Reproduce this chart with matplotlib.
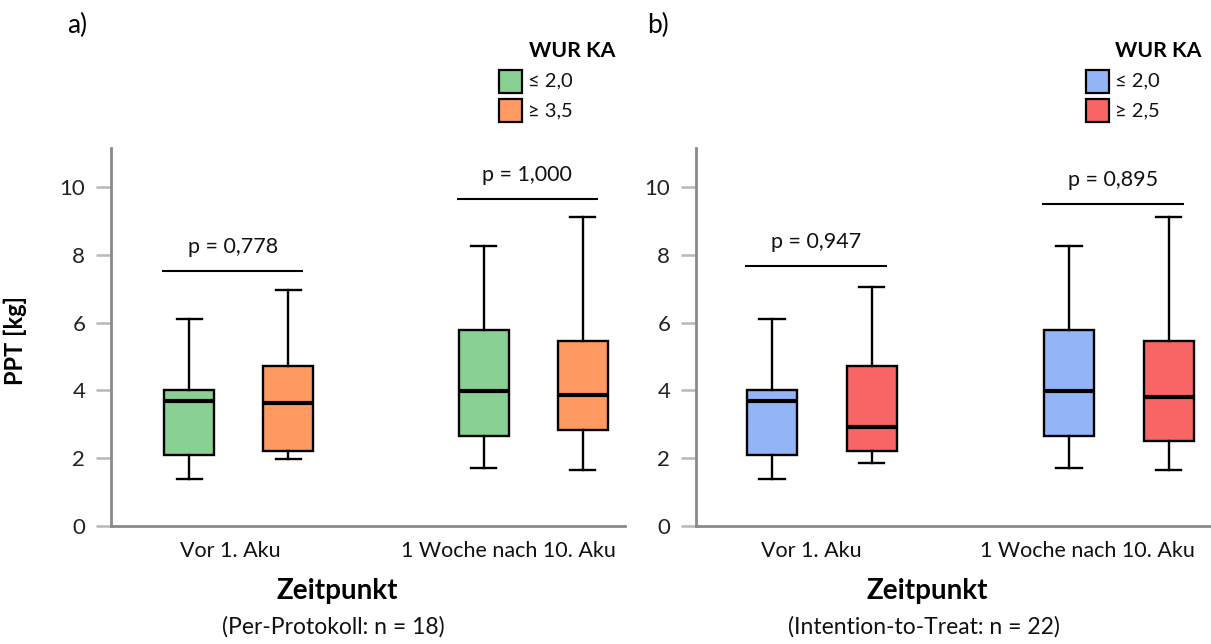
import matplotlib
matplotlib.use("Agg")
import matplotlib.pyplot as plt
from matplotlib.patches import Rectangle
from matplotlib.transforms import ScaledTranslation

plt.rcParams['font.family'] = ['Lato', 'DejaVu Sans']

W, H = 1211, 644

categories = ["Vor 1. Aku", "1 Woche nach 10. Aku"]
yticks = [0, 2, 4, 6, 8, 10]

# Per-Protokoll (n = 18): five-number summaries per timepoint
pp_low_whislo = [1.38, 1.72]
pp_low_q1 = [2.10, 2.65]
pp_low_med = [3.68, 3.98]
pp_low_q3 = [4.00, 5.78]
pp_low_whishi = [6.10, 8.25]

pp_high_whislo = [1.98, 1.65]
pp_high_q1 = [2.20, 2.82]
pp_high_med = [3.62, 3.87]
pp_high_q3 = [4.72, 5.45]
pp_high_whishi = [6.95, 9.12]

pp_pvalues = ["0,778", "1,000"]
pp_bracket_y = [7.52, 9.65]

# Intention-to-Treat (n = 22)
itt_low_whislo = [1.38, 1.72]
itt_low_q1 = [2.10, 2.65]
itt_low_med = [3.68, 3.98]
itt_low_q3 = [4.00, 5.78]
itt_low_whishi = [6.10, 8.25]

itt_high_whislo = [1.85, 1.65]
itt_high_q1 = [2.20, 2.52]
itt_high_med = [2.92, 3.80]
itt_high_q3 = [4.72, 5.45]
itt_high_whishi = [7.05, 9.12]

itt_pvalues = ["0,947", "0,895"]
itt_bracket_y = [7.67, 9.50]

pp_labels = ["\u2264 2,0", "\u2265 3,5"]
itt_labels = ["\u2264 2,0", "\u2265 2,5"]
pp_colors = ["#88D093", "#FF9A62"]
itt_colors = ["#93B4F6", "#F76565"]


def fx(x):
    return x / W


def fy(y):
    return 1 - y / H


def summaries(lo, q1, med, q3, hi):
    return [dict(whislo=a, q1=b, med=c, q3=d, whishi=e, fliers=[])
            for a, b, c, d, e in zip(lo, q1, med, q3, hi)]


fig = plt.figure(figsize=(W / 100, H / 100), dpi=100)

OFF = 0.168
BW = 0.17


def draw_panel(ax, low, high, colors, pvals, brackets, label_shift):
    pos = list(range(len(categories)))
    for stats, color, sign in ((low, colors[0], -1), (high, colors[1], 1)):
        ax.bxp(stats, positions=[p + sign * OFF for p in pos], widths=BW,
               patch_artist=True, showfliers=False,
               boxprops=dict(facecolor=color, edgecolor='black', linewidth=1.7),
               medianprops=dict(color='black', linewidth=3.0),
               whiskerprops=dict(color='black', linewidth=1.7),
               capprops=dict(color='black', linewidth=1.7))
    for p, pv, h in zip(pos, pvals, brackets):
        ax.plot([p - 0.26, p + 0.22], [h, h], color='black', lw=1.5,
                solid_capstyle='butt')
        ax.text(p - 0.02, h + 0.52, f"p = {pv}", ha='center', va='baseline',
                fontsize=15.5, color='#111111')
    ax.set_ylim(0, 11.15)
    ax.set_yticks(yticks)
    ax.set_xticks(pos)
    ax.set_xticklabels(categories, fontsize=15.5, color='#111111')
    ax.tick_params(axis='x', length=0, pad=11)
    ax.tick_params(axis='y', length=10.5, width=1.8, color='#B8B8B8',
                   labelsize=16, pad=8, labelcolor='#222222')
    for lab, dx in zip(ax.get_xticklabels(), label_shift):
        lab.set_transform(lab.get_transform()
                          + ScaledTranslation(dx / 100, 0, fig.dpi_scale_trans))
    for s in ('top', 'right'):
        ax.spines[s].set_visible(False)
    for s in ('left', 'bottom'):
        ax.spines[s].set_color('#8A8A8A')
        ax.spines[s].set_linewidth(2.0)
    ax.set_facecolor('none')


axL = fig.add_axes([fx(111), fy(526), fx(625) - fx(111), fy(148) - fy(526)])
axL.set_xlim(-0.433, 1.312)
draw_panel(axL,
           summaries(pp_low_whislo, pp_low_q1, pp_low_med, pp_low_q3, pp_low_whishi),
           summaries(pp_high_whislo, pp_high_q1, pp_high_med, pp_high_q3, pp_high_whishi),
           pp_colors, pp_pvalues, pp_bracket_y, (-8, -25))
axL.set_ylabel("PPT [kg]", fontsize=17, fontweight='bold')
axL.yaxis.set_label_coords((27 - 111) / 514, 0.49)

axR = fig.add_axes([fx(696), fy(526), fx(1211) - fx(696), fy(148) - fy(526)])
axR.set_xlim(-0.424, 1.31)
draw_panel(axR,
           summaries(itt_low_whislo, itt_low_q1, itt_low_med, itt_low_q3, itt_low_whishi),
           summaries(itt_high_whislo, itt_high_q1, itt_high_med, itt_high_q3, itt_high_whishi),
           itt_colors, itt_pvalues, itt_bracket_y, (-11, -31))

# Panel letters, axis titles and sample notes
fig.text(fx(67), fy(25), "a)", fontsize=19, va='center', ha='left')
fig.text(fx(647), fy(25), "b)", fontsize=19, va='center', ha='left')
for cx, nx, note in ((337, 333, "(Per-Protokoll: n = 18)"),
                     (927, 924, "(Intention-to-Treat: n = 22)")):
    fig.text(fx(cx), fy(591), "Zeitpunkt", fontsize=20, fontweight='bold',
             ha='center', va='center')
    fig.text(fx(nx), fy(627), note, fontsize=16.5, ha='center', va='center',
             color='#111111')


# Legends
def draw_legend(x_patch, x_title_right, labels, colors):
    fig.text(fx(x_title_right), fy(51), "WUR KA", fontsize=15.3, fontweight='bold',
             ha='right', va='center')
    for i, (lab, col) in enumerate(zip(labels, colors)):
        yc = 81 + i * 29.5
        fig.add_artist(Rectangle((fx(x_patch), fy(yc + 11.5)), fx(23), 23 / H,
                                 transform=fig.transFigure, facecolor=col,
                                 edgecolor='black', linewidth=1.6))
        fig.text(fx(x_patch + 29), fy(yc), lab, fontsize=14.5, ha='left',
                 va='center', color='#111111')


draw_legend(499, 615, pp_labels, pp_colors)
draw_legend(1086, 1201, itt_labels, itt_colors)

fig.savefig("out.png", dpi=100, facecolor='white')
